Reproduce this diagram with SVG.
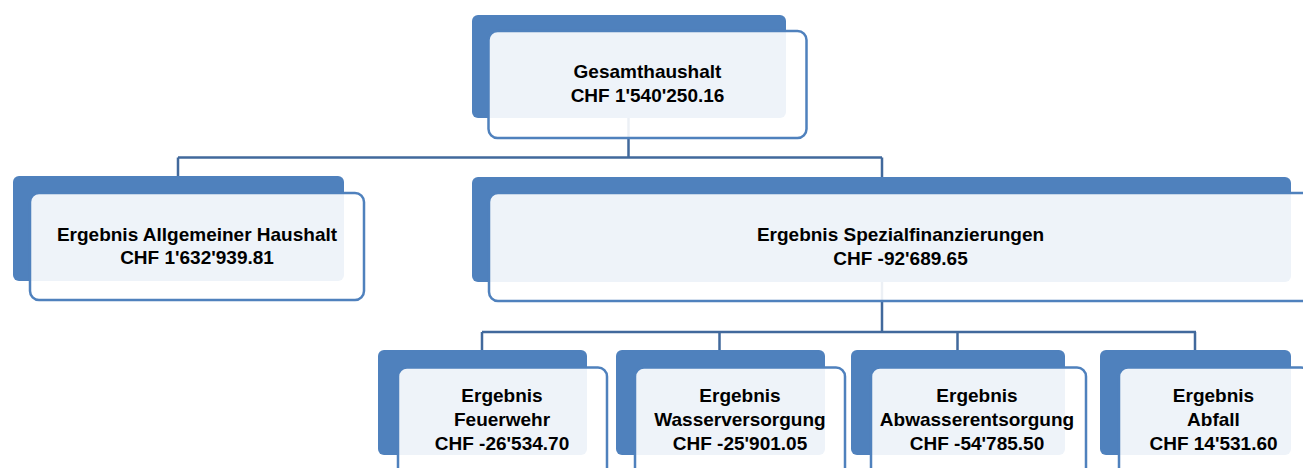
<svg xmlns="http://www.w3.org/2000/svg" width="1303" height="468" viewBox="0 0 1303 468">
<style>
.back{fill:#4F81BD;}
.front{fill:#FFFFFF;fill-opacity:0.9;stroke:#4F81BD;stroke-width:2.5;}
.conn{fill:none;stroke:#41699C;stroke-width:2.5;}
text{font-family:"Liberation Sans",Arial,sans-serif;font-weight:bold;font-size:19px;fill:#000;text-anchor:middle;}
</style>
<rect width="1303" height="468" fill="#FFFFFF"/>
<g id="connectors">
<path class="conn" d="M628.5,118 V157.5 M178,157.5 H882 M178,157.5 V176 M882,157.5 V177"/>
<path class="conn" d="M882,282 V332 M482,332 H1196 M482,332 V350 M719.5,332 V350 M957.5,332 V350 M1195,332 V350"/>
</g>
<g id="node-gesamt">
<rect class="back" x="472" y="15" width="314" height="103" rx="6"/>
<rect class="front" x="488.5" y="31" width="318" height="107" rx="9"/>
<text x="647.5" y="78">Gesamthaushalt</text>
<text x="647.5" y="102">CHF 1'540'250.16</text>
</g>
<g id="node-allgemein">
<rect class="back" x="13" y="176" width="331" height="105" rx="6"/>
<rect class="front" x="30" y="193" width="334" height="107" rx="9"/>
<text x="197" y="241">Ergebnis Allgemeiner Haushalt</text>
<text x="197" y="264">CHF 1'632'939.81</text>
</g>
<g id="node-spezial">
<rect class="back" x="472" y="177" width="819" height="105" rx="6"/>
<rect class="front" x="489" y="193" width="822" height="108" rx="9"/>
<text x="900.5" y="241">Ergebnis Spezialfinanzierungen</text>
<text x="900.5" y="265">CHF -92'689.65</text>
</g>
<g id="node-feuerwehr">
<rect class="back" x="378" y="350" width="209" height="105" rx="6"/>
<rect class="front" x="398" y="367.5" width="209" height="112" rx="9"/>
<text x="502" y="402">Ergebnis</text>
<text x="502" y="426">Feuerwehr</text>
<text x="502" y="450">CHF -26'534.70</text>
</g>
<g id="node-wasser">
<rect class="back" x="616" y="350" width="209" height="105" rx="6"/>
<rect class="front" x="635" y="367.5" width="210" height="112" rx="9"/>
<text x="740" y="402">Ergebnis</text>
<text x="740" y="426">Wasserversorgung</text>
<text x="740" y="450">CHF -25'901.05</text>
</g>
<g id="node-abwasser">
<rect class="back" x="851" y="350" width="214" height="105" rx="6"/>
<rect class="front" x="871" y="367.5" width="215" height="112" rx="9"/>
<text x="977" y="402">Ergebnis</text>
<text x="977" y="426">Abwasserentsorgung</text>
<text x="977" y="450">CHF -54'785.50</text>
</g>
<g id="node-abfall">
<rect class="back" x="1100" y="350" width="191" height="105" rx="6"/>
<rect class="front" x="1119" y="367.5" width="191" height="112" rx="9"/>
<text x="1213.5" y="402">Ergebnis</text>
<text x="1213.5" y="426">Abfall</text>
<text x="1213.5" y="450">CHF 14'531.60</text>
</g>
</svg>
